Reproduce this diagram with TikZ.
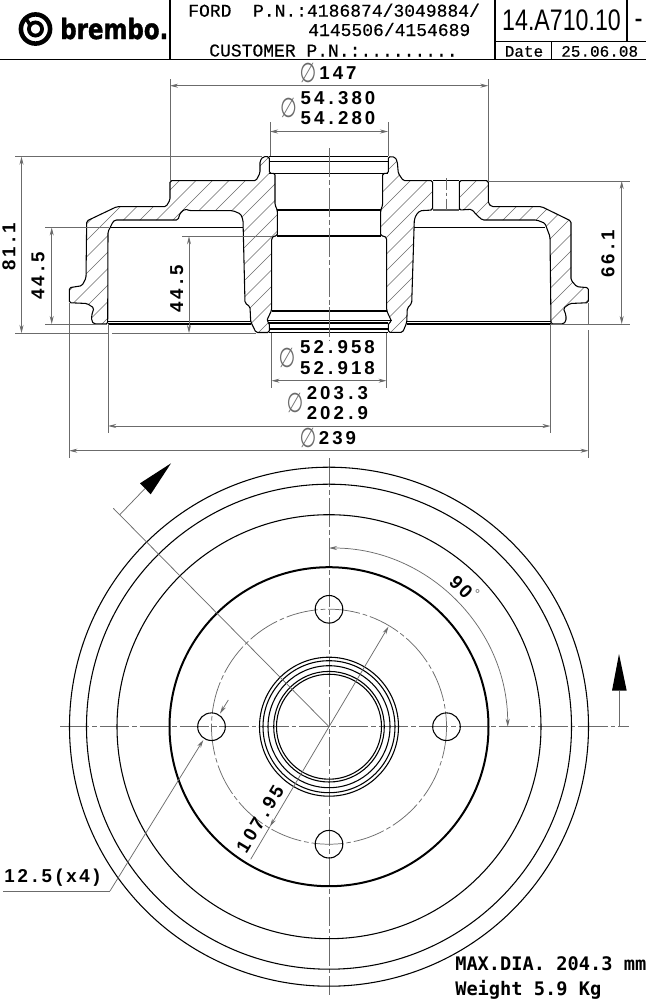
\documentclass[tikz,border=0pt]{standalone}
\usepackage{fontspec}
\usetikzlibrary{arrows.meta}
\setmainfont{Liberation Mono}
\newfontfamily\dimf[LetterSpace=16,BoldFont={Liberation Sans Bold}]{Liberation Sans}
\newfontfamily\hdrf[FakeBold=.35]{Liberation Mono}
\newfontfamily\pnf{Liberation Sans}
\newfontfamily\notef{DejaVu Sans Mono}
\newfontfamily\logof[FakeBold=1.4]{DejaVu Sans}
\newfontfamily\diaf{DejaVu Sans}
\definecolor{dimgray}{gray}{0.42}
\newcommand{\dt}{\kern3.2pt.\kern3.2pt}
\tikzset{
  x=.75pt,y=-.75pt,
  obj/.style={draw=black,line width=.8pt,line join=round},
  thickobj/.style={draw=black,line width=1.5pt},
  hatchln/.style={draw=dimgray,line width=.4pt},
  extln/.style={draw=dimgray,line width=.55pt},
  dimln/.style={draw=dimgray,line width=.55pt,{Stealth[length=6pt,width=3pt]}-{Stealth[length=6pt,width=3pt]}},
  dimone/.style={draw=dimgray,line width=.55pt,-{Stealth[length=6pt,width=3pt]}},
  centre/.style={draw=dimgray,line width=.55pt,dash pattern=on 22pt off 2.2pt on 3.5pt off 2.2pt},
  dnum/.style={inner sep=0pt,font=\dimf\bfseries\fontsize{14}{14}\selectfont},
  dia/.style={inner sep=0pt,text=dimgray,xscale=.85,yscale=1.2,transform shape,font=\diaf\fontsize{17}{17}\selectfont},
  hdr/.style={inner sep=0pt,anchor=base west,font=\hdrf\fontsize{13.5}{13.5}\selectfont},
  small/.style={inner sep=0pt,anchor=base west,font=\hdrf\fontsize{12}{12}\selectfont},
  note/.style={inner sep=0pt,anchor=base west,font=\notef\bfseries\fontsize{14}{14}\selectfont},
}
\def\pieceA{(269.3,156.7) -- (263,156.7) -- (260,161) -- (260,173) -- (256,180.7) -- (170,180.7) -- (170,200) -- (166,206.7) -- (116.7,206.7) -- (86.7,221) -- (86,278) -- (82,285.7) -- (69.3,287.7) -- (69.3,302.7) -- (87,303.5) -- (94,308) -- (91.7,315) -- (91.7,321) -- (94,324) -- (107.7,324) -- (108,231.7) -- (113,221.7) -- (115,220) -- (178,220) -- (180,213.3) -- (185,209) -- (190,210.7) -- (233,210.7) -- (240.7,214) -- (243,220) -- (245,303) -- (250,306.7) -- (250.7,321.7) -- (256,332.5) -- (269.3,332.5) -- (269.3,323) -- (266.7,320.7) -- (271.7,310) -- (271.7,238) -- (273.5,236) -- (277.3,236) -- (277.3,210) -- (275,205) -- (275,173.3) -- (269.3,173.3) -- cycle}
\def\pieceB{(388.3,156.7) -- (395,157) -- (397.3,161.7) -- (398.3,173.3) -- (403.3,180.7) -- (432.7,180.7) -- (432.7,210) -- (420,210.7) -- (416,215) -- (414.3,220) -- (411.7,303.3) -- (407.3,308.3) -- (406.7,322.7) -- (402.7,332.3) -- (388.3,332.3) -- (388.3,323) -- (391.7,321.7) -- (386.7,310.7) -- (386.7,238) -- (384.5,236) -- (380.7,236) -- (380.7,210) -- (382.7,205) -- (382.7,173.3) -- (388.3,173.3) -- cycle}
\def\pieceC{(459.3,180.7) -- (488.3,180.7) -- (488.3,203.3) -- (491.7,206.7) -- (541.7,206.7) -- (571,221) -- (571,280) -- (576.7,286.7) -- (588.3,287.7) -- (588.3,302.7) -- (570,303.5) -- (563.3,308.3) -- (566,315) -- (566,321) -- (563.3,324) -- (551,324) -- (550,236.7) -- (545,223.3) -- (536.7,220) -- (482.3,220) -- (476.7,215) -- (471.7,209.3) -- (459.3,210) -- cycle}
\begin{document}
\begin{tikzpicture}
\path[use as bounding box,fill=white] (0,0) rectangle (646,1000);
% ---- title block
\draw[obj] (0,59.3) -- (646,59.3);
\draw[obj] (170,0) -- (170,59.3);
\draw[obj] (495,0) -- (495,59.3);
\draw[obj] (495,41.7) -- (646,41.7);
\draw[obj] (627,0) -- (627,41.7);
\draw[obj] (551.7,41.7) -- (551.7,59.3);
% logo
\draw[draw=black,line width=3.4pt] (35.5,29) circle (14.6);
\draw[draw=black,line width=2.8pt] (35.5,29) circle (6.6);
\draw[draw=black,line width=2.6pt] (25,16.5) -- (30.5,26);
\node[inner sep=0pt,anchor=base west,yscale=1.22,transform shape,font=\logof\bfseries\fontsize{17.2}{17.2}\selectfont] (logo) at (60,39) {brembo.};
\node[hdr] (t1) at (188,16.7) {FORD\ \ P.N.:4186874/3049884/};
\node[hdr] (t2) at (308,36) {4145506/4154689};
\node[hdr] (t3) at (209,56.5) {CUSTOMER P.N.:.........};
\node[inner sep=0pt,anchor=base west,xscale=.78,transform shape,font=\pnf\fontsize{22.3}{22.3}\selectfont] (pn) at (502,30.7) {14.A710.10};
\node[inner sep=0pt,font=\hdrf\bfseries\fontsize{15}{15}\selectfont] (dash) at (638.5,22) {-};
\node[small] (dt) at (504.5,56.7) {Date};
\node[small] (dv) at (561,56.7) {25.06.08};
% ---- section: hatching
\begin{scope}
\clip \pieceA \pieceB \pieceC;
\foreach \c in {-150,-133.5,...,600}{\draw[hatchln] (\c,345) -- ({\c+210},135);}
\end{scope}
\draw[obj,rounded corners=1.2pt] \pieceA;
\draw[obj,rounded corners=1.2pt] \pieceB;
\draw[obj,rounded corners=1.2pt] \pieceC;
% hub internal lines
\draw[obj] (269.3,156.7) -- (388.3,156.7);
\draw[obj] (269.3,161.7) -- (388.3,161.7);
\draw[obj] (269.3,173.3) -- (388.3,173.3);
\draw[obj] (277.3,210) -- (380.7,210);
\draw[obj] (277.3,236) -- (380.7,236);
\draw[obj] (271.7,311) -- (386.7,311);
\draw[obj] (266.7,320.7) -- (391.7,320.7);
\draw[thickobj] (269.3,323) -- (388.3,323);
\draw[obj] (269.3,329) -- (388.3,329);
\draw[obj] (269.3,332.4) -- (388.3,332.4);
% drum internal lines
\draw[obj] (109.5,227.3) -- (242.8,227.3);
\draw[obj] (414,227.3) -- (544.5,227.3);
\draw[obj] (107.7,321.3) -- (250.6,321.3);
\draw[obj] (107.7,324) -- (251,324);
\draw[obj] (407,321.3) -- (551,321.3);
\draw[obj] (407,324) -- (551,324);
% hole
\draw[obj] (432.7,180.7) -- (459.3,180.7);
\draw[obj] (459.3,180.7) -- (459.3,210);
\draw[thickobj,draw=black!65] (432.7,209.5) -- (459.3,209.5);
\draw[centre,dash pattern=on 9pt off 2pt on 2.5pt off 2pt] (446,178) -- (446,210);
% ---- extension and dimension lines, section
\draw[centre] (329,148) -- (329,340);
\draw[extln] (170,79) -- (170,180.7);
\draw[extln] (488.3,79) -- (488.3,180.7);
\draw[dimln] (170,85.7) -- (488.3,85.7);
\draw[extln] (270,122) -- (270,156);
\draw[extln] (388,122) -- (388,156);
\draw[dimln] (270,131.5) -- (388,131.5);
\draw[extln] (15,156.7) -- (262,156.7);
\draw[extln] (15,333) -- (108,333);
\draw[extln] (112,333) -- (256,333);
\draw[dimln] (21.5,156.7) -- (21.5,333);
\draw[extln] (45,227.5) -- (109,227.5);
\draw[extln] (45,324) -- (107,324);
\draw[dimln] (51.7,227.5) -- (51.7,324);
\draw[extln] (182,236.3) -- (272,236.3);
\draw[dimln] (189,236.3) -- (189,333);
\draw[extln] (488.3,181) -- (630,181);
\draw[extln] (551,324) -- (630,324);
\draw[dimln] (621.7,181) -- (621.7,324);
\draw[extln] (69.3,303) -- (69.3,458);
\draw[extln] (588.5,303) -- (588.5,324);
\draw[extln] (588.5,330) -- (588.5,458);
\draw[dimln] (69.3,450.7) -- (588.5,450.7);
\draw[extln] (108.2,324) -- (108.2,433);
\draw[extln] (550.5,324) -- (550.5,433);
\draw[dimln] (108.2,426) -- (550.5,426);
\draw[extln] (271.5,333) -- (271.5,388);
\draw[extln] (386.5,333) -- (386.5,388);
\draw[dimln] (271.5,380.7) -- (386.5,380.7);
% ---- dimension texts, section
\node[dia] (d147) at (308,73) {∅};
\node[dnum] (v147) at (338,73) {147};
\node[dia] (d54) at (288.4,108) {∅};
\node[dnum] (v54a) at (338,98) {54\dt380};
\node[dnum] (v54b) at (338,118) {54\dt280};
\node[dia] (d52) at (287,358) {∅};
\node[dnum] (v52a) at (337.5,347) {52\dt958};
\node[dnum] (v52b) at (337.5,368) {52\dt918};
\node[dia] (d203) at (295,403) {∅};
\node[dnum] (v203a) at (337.5,393) {203\dt3};
\node[dnum] (v203b) at (337.5,413) {202\dt9};
\node[dia] (d239) at (308,438) {∅};
\node[dnum] (v239) at (337.5,438) {239};
\node[dnum,rotate=90] (v81) at (9,246.7) {81\dt1};
\node[dnum,rotate=90] (v44a) at (38,276) {44\dt5};
\node[dnum,rotate=90] (v44b) at (176.7,289) {44\dt5};
\node[dnum,rotate=90] (v66) at (608,254) {66\dt1};
% ---- front view
\draw[centre] (60,726.7) -- (629,726.7);
\draw[centre] (329,458) -- (329,995);
\foreach \r in {259.5,242.5,212}{\draw[obj] (329,726.7) circle (\r);}
\draw[thickobj] (329,726.7) circle (159.5);
\foreach \r in {69.5,66,61,55.3,52.5}{\draw[obj] (329,726.7) circle (\r);}
\draw[centre,dash pattern=on 24pt off 2.2pt on 3.5pt off 2.2pt] (329,726.7) circle (117.5);
\foreach \p in {(329,609.3),(329,844.2),(446.5,726.7),(211.5,726.7)}{\draw[obj] \p circle (13.8);}
% section arrows
\draw[extln] (113.3,508.3) -- (329,726.7);
\draw[extln] (120,514.5) -- (145,488.5);
\fill[black] (171,463.3) -- (140,483.3) -- (150.7,494.3) -- cycle;
\draw[extln] (619,726.7) -- (619,690.7);
\fill[black] (619,654) -- (612,690.7) -- (626.7,690.7) -- cycle;
% 90 degree arc
\draw[dimln] (507.7,726.7) arc[start angle=0,end angle=-90,radius=178.7];
\node[dnum,rotate=-45] (v90) at (461,587) {90};
\node[inner sep=0pt,text=dimgray,font=\diaf\fontsize{9}{9}\selectfont] (deg) at (477.7,594) {°};
% pcd
\draw[dimln] (388.5,626.5) -- (329,726.7) -- (270,826.5);
\draw[extln] (270,826.5) -- (250.7,859.3);
\node[dnum,rotate=59] (v108) at (260,819) {107\dt95};
% hole leader
\coordinate (lead) at (110,891);
\draw[extln] (3,891) -- (lead);
\draw[dimone] (lead) -- (203.3,740);
\draw[dimone] (228.3,700) -- (220,713.5);
\node[dnum,anchor=west] (v125) at (4,877.7) {12\dt5\kern3pt(\kern3pt x\kern2pt 4\kern3pt)};
% notes
\node[note] (n1) at (455,970) {MAX.DIA. 204.3 mm};
\node[note] (n2) at (455,995) {Weight 5.9 Kg};
\end{tikzpicture}
\end{document}
